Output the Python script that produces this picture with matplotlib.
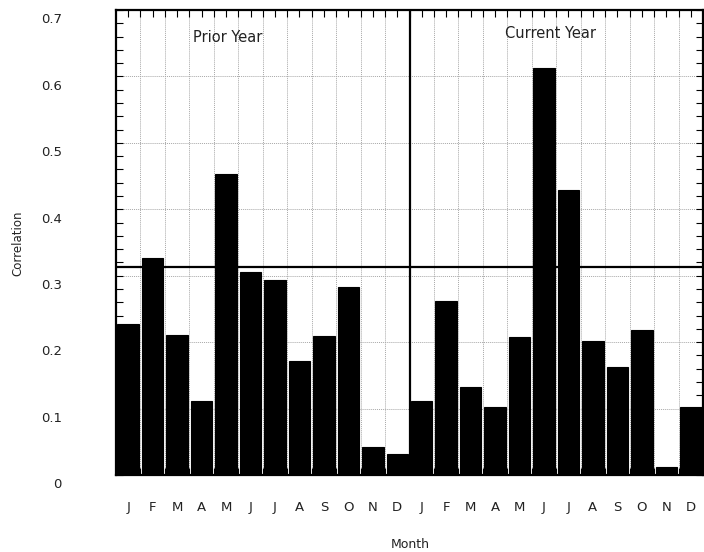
import numpy as np
import matplotlib
matplotlib.use("Agg")
from matplotlib import pyplot as plt
from matplotlib.ticker import MultipleLocator, FixedLocator
from matplotlib.transforms import ScaledTranslation

# monthly correlations, prior year then current year
months = ["J", "F", "M", "A", "M", "J", "J", "A", "S", "O", "N", "D"]
prior_year = [0.228, 0.327, 0.211, 0.111, 0.453, 0.305, 0.293, 0.171, 0.209, 0.283, 0.042, 0.031]
current_year = [0.111, 0.262, 0.132, 0.102, 0.207, 0.613, 0.429, 0.202, 0.162, 0.218, 0.012, 0.102]
threshold = 0.313

values = prior_year + current_year
labels = months + months
xs = np.arange(len(values))

fig = plt.figure(figsize=(7.04, 5.52), dpi=100)
ax = fig.add_axes([116 / 704, 1 - 475 / 552, 587 / 704, 465 / 552])

ax.bar(xs, values, width=0.88, color="black", edgecolor="black", linewidth=0.8, zorder=3)

# dotted grid between the months and at every 0.1
grid_kw = dict(color="#a8a8a8", linestyle=(0, (1, 1)), linewidth=0.7, zorder=1)
for b in xs[:-1] + 0.5:
    ax.axvline(b, **grid_kw)
for g in np.arange(0.1, 0.7, 0.1):
    ax.axhline(g, **grid_kw)

# year divider and the reference level
ax.axvline(11.5, color="black", linewidth=1.6, zorder=4)
ax.axhline(threshold, color="black", linewidth=1.6, zorder=4)

ax.text(4.06, 0.659, "Prior Year", ha="center", va="center", fontsize=10.5, color="#222222")
ax.text(17.28, 0.665, "Current Year", ha="center", va="center", fontsize=10.5, color="#222222")

ax.set_xlim(-0.5, len(values) - 0.5)
ax.set_ylim(0, 0.7)

ax.xaxis.set_major_locator(FixedLocator(xs))
ax.set_xticklabels(labels)
ax.xaxis.set_minor_locator(FixedLocator(xs[:-1] + 0.5))
ax.yaxis.set_minor_locator(MultipleLocator(0.02))
ax.set_yticks(np.arange(0, 0.71, 0.1))
ax.set_yticklabels(["0", "0.1", "0.2", "0.3", "0.4", "0.5", "0.6", "0.7"])

ax.tick_params(axis="both", which="both", direction="in", top=True, right=True,
               length=5, width=0.8, color="black", labelcolor="#222222", labelsize=9.5)
ax.tick_params(axis="x", which="major", pad=19)
ax.tick_params(axis="y", which="major", pad=39)

# nudge y labels a little below their ticks
shift = ScaledTranslation(0, -6 / 72, fig.dpi_scale_trans)
for lab in ax.get_yticklabels():
    lab.set_transform(lab.get_transform() + shift)

for sp in ax.spines.values():
    sp.set_linewidth(1.6)
    sp.set_zorder(5)

fig.text(18 / 704, 1 - 243 / 552, "Correlation", rotation=90, ha="center", va="center",
         fontsize=8.5, color="#222222")
fig.text(410 / 704, 1 - 545 / 552, "Month", ha="center", va="center", fontsize=9, color="#222222")

fig.savefig("out.png", dpi=100)
